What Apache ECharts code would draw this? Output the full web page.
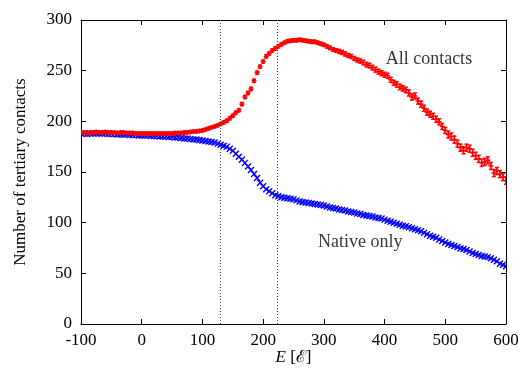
<!doctype html>
<html lang="en" style="height: 100%">
<head>
  <meta charset="utf-8" />
  <script type="text/javascript" src="https://fastly.jsdelivr.net/npm/echarts@6/dist/echarts.min.js"></script>
</head>
<body style="height: 100%; margin: 0; background: #fff">
  <div id="main" style="width: 521px; height: 368px"></div>
  <script type="text/javascript">
    // energy grid (E), one point every 5 units
    var energy = [
      -100, -95, -90, -85, -80, -75, -70, -65, -60, -55, -50, -45, -40, -35, -30, -25, -20, -15, -10, -5, 0,
      5, 10, 15, 20, 25, 30, 35, 40, 45, 50, 55, 60, 65, 70, 75, 80, 85, 90, 95, 100,
      105, 110, 115, 120, 125, 130, 135, 140, 145, 150, 155, 160, 165, 170, 175, 180, 185, 190, 195, 200,
      205, 210, 215, 220, 225, 230, 235, 240, 245, 250, 255, 260, 265, 270, 275, 280, 285, 290, 295, 300,
      305, 310, 315, 320, 325, 330, 335, 340, 345, 350, 355, 360, 365, 370, 375, 380, 385, 390, 395, 400,
      405, 410, 415, 420, 425, 430, 435, 440, 445, 450, 455, 460, 465, 470, 475, 480, 485, 490, 495, 500,
      505, 510, 515, 520, 525, 530, 535, 540, 545, 550, 555, 560, 565, 570, 575, 580, 585, 590, 595, 600
    ];

    // all tertiary contacts (red, with error bars)
    var allContacts = [
      189, 189, 188.5, 189, 189, 189.5, 189, 189, 189.5, 189, 189, 189, 188.5, 189, 189, 188.5, 188.5, 188.5, 188, 188, 188,
      188, 188, 188, 188, 188, 188, 188, 188, 188, 188, 188.5, 188.5, 188.5, 189, 189, 189.5, 190, 190, 190.5, 191,
      192, 193, 194, 195, 196, 197.5, 199, 200.5, 203, 205.5, 208.5, 211, 217, 224, 228, 232, 240, 248, 254, 259,
      264, 267, 270, 272, 274, 276, 277.5, 279, 279.5, 280, 280, 280.5, 280, 279.5, 279, 278.5, 278.5, 277.5, 276.5, 275.5,
      274, 272.5, 271, 270, 269, 268, 266.5, 265, 264, 262, 260.5, 259.5, 258, 256, 255, 253, 251, 249, 247.5, 246,
      245, 241, 238, 236.5, 234, 232.5, 231, 228, 224, 225, 220, 217, 213, 209, 207, 205, 202, 199.5, 195, 191,
      187, 185, 182, 178, 174, 171.5, 174, 173, 169, 166, 163, 159, 160, 161.5, 156, 149, 151, 148, 145, 141.5
    ];
    var allContactsErr = [
      0.8, 0.8, 0.8, 0.8, 0.8, 0.8, 0.8, 0.8, 0.8, 0.8, 0.8, 0.8, 0.8, 0.8, 0.8, 0.8, 0.8, 0.8, 0.8, 0.8, 0.8,
      0.8, 0.8, 0.8, 0.8, 0.8, 0.8, 0.8, 0.8, 0.8, 0.8, 0.8, 0.8, 0.8, 0.8, 0.8, 0.8, 0.8, 0.8, 0.8, 0.8,
      0.8, 0.8, 0.8, 0.8, 0.8, 0.8, 1, 1, 1, 1, 1, 1, 1, 1, 1, 1, 1, 1, 1, 1,
      1, 1, 1, 1, 1, 1, 1, 1, 1, 1, 1, 1, 1, 1, 1, 1, 1, 1, 1, 1,
      1.2, 1.2, 1.2, 1.2, 1.5, 1.5, 1.5, 1.5, 1.5, 1.5, 1.5, 1.5, 1.8, 1.8, 1.8, 1.8, 2, 2, 2, 2,
      2, 2, 2, 2.2, 2.2, 2.2, 2.2, 2.5, 2.5, 2.5, 2.5, 2.5, 2.5, 2.5, 2.5, 2.5, 2.5, 2.5, 2.5, 2.5,
      3, 3, 3, 3, 3, 3, 3, 3, 3, 3, 3, 3, 3, 3, 3, 3, 3, 3, 3, 3
    ];

    // native contacts only (blue crosses)
    var nativeOnly = [
      188, 188, 187.5, 188, 188, 188, 188, 188, 188, 187.5, 187.5, 187.5, 187, 187, 187, 187, 186.5, 186.5, 186.5, 186, 186,
      186, 186, 185.5, 185.5, 185.5, 185, 185, 185, 184.5, 184.5, 184, 184, 183.5, 183, 183, 182.5, 182, 182, 181.5, 181,
      180.5, 180, 179.5, 179, 178, 177, 176, 175, 173, 171, 168, 165, 162, 159, 155.5, 152, 148, 144, 139.5, 136,
      133, 131, 129, 127, 126, 125, 124.5, 124, 123.5, 123, 122, 121, 120.5, 120, 119.5, 119, 118.5, 118, 117.5, 117,
      116, 115, 114.5, 114, 113, 112.5, 112, 111, 110.5, 110, 109, 108.5, 107.5, 107, 106.5, 106, 105, 104.5, 104, 103,
      102, 101, 100, 99, 98, 97, 96.5, 95.5, 94.5, 93.5, 92.5, 91.5, 90, 88.5, 87, 86, 85, 83.5, 82, 80.5,
      79, 78, 77, 76, 74.5, 74, 73, 71.5, 70, 69, 68, 67, 66.5, 66, 65, 63.5, 62, 59.5, 58.5, 57
    ];

    // dotted vertical markers
    var transitions = [130, 224];

    // text annotations: [E, contacts, text]
    var notes = [
      [473, 261.5, 'All contacts'],
      [360, 81, 'Native only']
    ];

    var serif = 'Liberation Serif, DejaVu Serif, serif';
    var chart = echarts.init(document.getElementById('main'));

    var redData = energy.map(function (e, i) { return [e, allContacts[i], allContactsErr[i]]; });
    var blueData = energy.map(function (e, i) { return [e, nativeOnly[i]]; });

    function renderPlus(params, api) {
      var p = api.coord([api.value(0), api.value(1)]);
      var hi = api.coord([api.value(0), api.value(1) + api.value(2)]);
      var lo = api.coord([api.value(0), api.value(1) - api.value(2)]);
      var st = { stroke: '#ff0000', lineWidth: 1.5 };
      var s = 2.5, c = 2;
      return {
        type: 'group',
        children: [
          { type: 'line', shape: { x1: p[0], y1: hi[1] - 0.5, x2: p[0], y2: lo[1] + 0.5 }, style: st },
          { type: 'line', shape: { x1: p[0] - c, y1: hi[1] - 0.5, x2: p[0] + c, y2: hi[1] - 0.5 }, style: st },
          { type: 'line', shape: { x1: p[0] - c, y1: lo[1] + 0.5, x2: p[0] + c, y2: lo[1] + 0.5 }, style: st },
          { type: 'line', shape: { x1: p[0] - s, y1: p[1], x2: p[0] + s, y2: p[1] }, style: st },
          { type: 'line', shape: { x1: p[0], y1: p[1] - s, x2: p[0], y2: p[1] + s }, style: st }
        ]
      };
    }

    function renderCross(params, api) {
      var p = api.coord([api.value(0), api.value(1)]);
      var st = { stroke: '#0000ff', lineWidth: 1.4 };
      var s = 3;
      return {
        type: 'group',
        children: [
          { type: 'line', shape: { x1: p[0] - s, y1: p[1] - s, x2: p[0] + s, y2: p[1] + s }, style: st },
          { type: 'line', shape: { x1: p[0] - s, y1: p[1] + s, x2: p[0] + s, y2: p[1] - s }, style: st }
        ]
      };
    }

    var frameLine = { show: true, onZero: false, lineStyle: { color: '#000', width: 1 } };
    var tick = { show: true, inside: true, length: 5, lineStyle: { color: '#000', width: 1 } };
    var labelStyle = { color: '#000', fontFamily: serif, fontSize: 17, showMinLabel: true, showMaxLabel: true };

    var option = {
      animation: false,
      grid: { left: 81, right: 15, top: 20, bottom: 44, containLabel: false, outerBoundsMode: 'none' },
      xAxis: [
        {
          type: 'value', min: -100, max: 600, interval: 100, position: 'bottom',
          axisLine: frameLine, axisTick: tick, splitLine: { show: false },
          axisLabel: Object.assign({ margin: 8 }, labelStyle),
          name: '{i|E} [ℰ]', nameLocation: 'middle', nameGap: 25, nameMoveOverlap: false,
          nameTextStyle: {
            color: '#000', fontFamily: serif, fontSize: 17, lineHeight: 18,
            rich: { i: { fontStyle: 'italic', fontFamily: serif, fontSize: 17, lineHeight: 18, color: '#000' } }
          }
        },
        {
          type: 'value', min: -100, max: 600, interval: 100, position: 'top',
          axisLine: frameLine, axisTick: tick, splitLine: { show: false }, axisLabel: { show: false }
        }
      ],
      yAxis: [
        {
          type: 'value', min: 0, max: 300, interval: 50, position: 'left',
          axisLine: frameLine, axisTick: tick, splitLine: { show: false },
          axisLabel: Object.assign({ margin: 9 }, labelStyle),
          name: 'Number of tertiary contacts', nameLocation: 'middle', nameGap: 52, nameRotate: 90,
          nameMoveOverlap: false,
          nameTextStyle: { color: '#000', fontFamily: serif, fontSize: 17 }
        },
        {
          type: 'value', min: 0, max: 300, interval: 50, position: 'right',
          axisLine: frameLine, axisTick: tick, splitLine: { show: false }, axisLabel: { show: false }
        }
      ],
      series: [
        {
          name: 'All contacts', type: 'custom', renderItem: renderPlus,
          data: redData, encode: { x: 0, y: 1 }, clip: true, z: 3
        },
        {
          name: 'Native only', type: 'custom', renderItem: renderCross,
          data: blueData, encode: { x: 0, y: 1 }, clip: true, z: 2,
          markLine: {
            silent: true, symbol: 'none', animation: false,
            label: { show: false },
            lineStyle: { color: '#444', type: [1, 2], width: 1 },
            data: transitions.map(function (e) { return { xAxis: e }; })
          }
        },
        {
          name: 'notes', type: 'scatter', symbolSize: 1, silent: true,
          itemStyle: { color: 'rgba(0,0,0,0)' },
          data: notes.map(function (n) { return { value: [n[0], n[1]], name: n[2] }; }),
          label: {
            show: true, position: 'inside', formatter: '{b}',
            color: '#000', fontFamily: serif, fontSize: 18
          }
        }
      ]
    };
    chart.setOption(option);
  </script>
</body>
</html>
